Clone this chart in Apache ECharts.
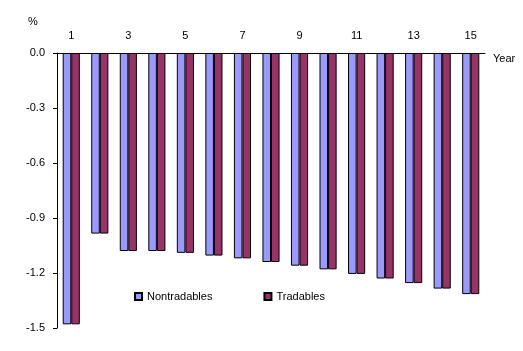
<!DOCTYPE html>
<html><head><meta charset="utf-8">
<script src="https://cdn.jsdelivr.net/npm/echarts@6/dist/echarts.min.js"></script>
<style>html,body{margin:0;padding:0;background:#fff}#c{width:523px;height:351px}</style>
</head><body><div id="c"></div>
<script>
const years = ['1','2','3','4','5','6','7','8','9','10','11','12','13','14','15'];
const nontradables = [-1.48,-0.985,-1.08,-1.08,-1.09,-1.105,-1.12,-1.14,-1.16,-1.18,-1.205,-1.23,-1.255,-1.285,-1.315];
const tradables    = [-1.48,-0.985,-1.08,-1.08,-1.09,-1.105,-1.12,-1.14,-1.16,-1.18,-1.205,-1.23,-1.255,-1.285,-1.315];
const yTicks = { min: -1.5, max: 0, interval: 0.3 };

const chart = echarts.init(document.getElementById('c'), null, {renderer:'canvas'});
const font = 'Liberation Sans, Arial, sans-serif';
chart.setOption({
  animation: false,
  textStyle: { fontFamily: font },
  grid: { left: 57, right: 38, top: 53, bottom: 23, containLabel: false },
  legend: {
    left: 134, top: 291, padding: 0, itemWidth: 7, itemHeight: 7, itemGap: 51,
    icon: 'rect',
    textStyle: { fontSize: 11, color: '#000', fontFamily: font },
    data: ['Nontradables','Tradables']
  },
  xAxis: {
    type: 'category', data: years, position: 'top',
    name: 'Year', nameLocation: 'end', nameGap: 8,
    nameTextStyle: { fontSize: 11, color: '#000', verticalAlign: 'top', padding: [0,0,0,0] },
    axisLine: { lineStyle: { color: '#000', width: 1 } },
    axisTick: { inside: true, length: 4, interval: 0, lineStyle: { color: '#000' } },
    axisLabel: { interval: 1, fontSize: 11, color: '#000', margin: 12 },
    splitLine: { show: false }
  },
  yAxis: {
    type: 'value', min: yTicks.min, max: yTicks.max, interval: yTicks.interval,
    name: '%', nameLocation: 'end', nameGap: 26,
    nameTextStyle: { fontSize: 11, color: '#000', padding: [0,48,0,0] },
    axisLine: { show: true, lineStyle: { color: '#000', width: 1 } },
    axisTick: { show: true, length: 4, lineStyle: { color: '#000' } },
    axisLabel: { fontSize: 11, color: '#000', margin: 12, formatter: v => v.toFixed(1) },
    splitLine: { show: false }
  },
  series: [
    { name: 'Nontradables', type: 'bar', data: nontradables, barGap: '0%', barCategoryGap: '40%',
      itemStyle: { color: '#9999FF', borderColor: '#000', borderWidth: 1 } },
    { name: 'Tradables', type: 'bar', data: tradables, barGap: '0%', barCategoryGap: '40%',
      itemStyle: { color: '#993366', borderColor: '#000', borderWidth: 1 } }
  ]
});
</script></body></html>
